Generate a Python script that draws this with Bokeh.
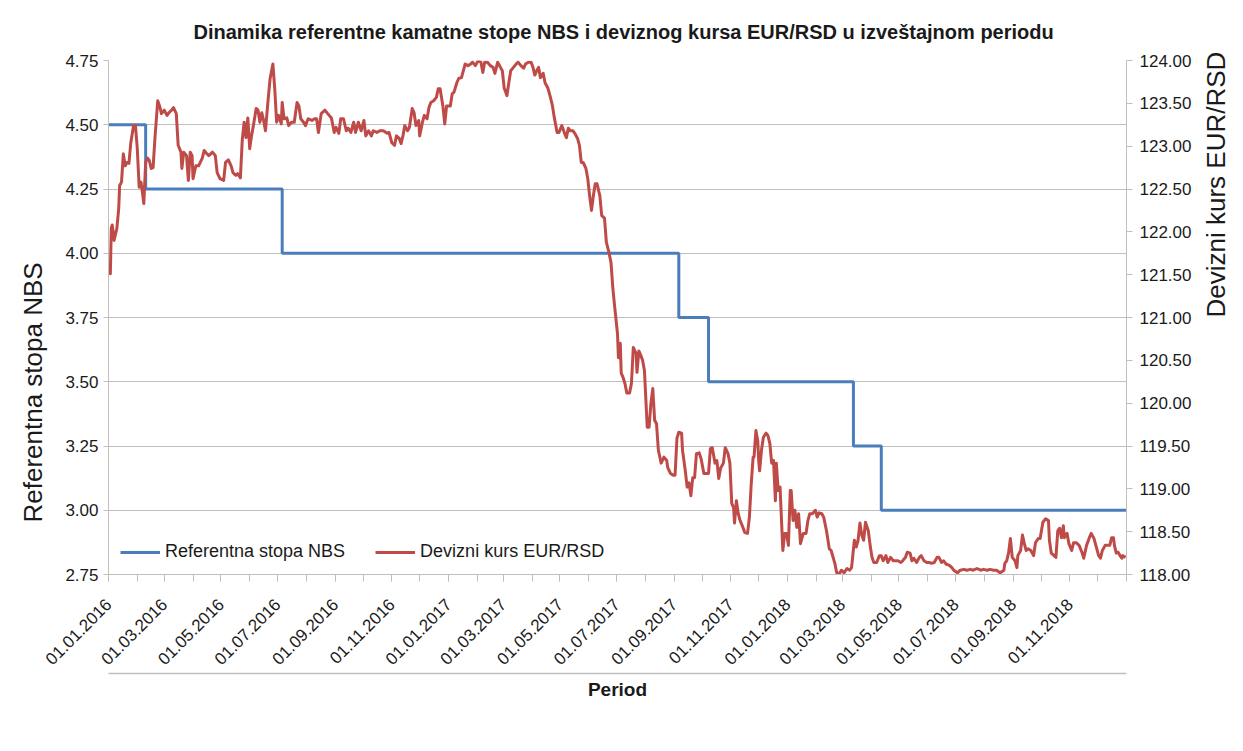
import math
import pandas as pd
from bokeh.plotting import figure
from bokeh.models import (Range1d, LinearAxis, FixedTicker, NumeralTickFormatter,
                          DatetimeTickFormatter, Legend, LegendItem, Title)
from bokeh.embed import file_html
from bokeh.resources import INLINE

# ---------------- data ----------------
rate_dates = ["2016-01-01", "2016-02-10", "2016-07-06", "2017-09-06",
              "2017-10-08", "2018-03-13", "2018-04-12", "2019-01-01"]
rate_values = [4.50, 4.25, 4.00, 3.75, 3.50, 3.25, 3.00, 3.00]

fx_dates = [
    "2016-01-01", "2016-01-03", "2016-01-04", "2016-01-05", "2016-01-07", "2016-01-10", "2016-01-12", "2016-01-13", "2016-01-15", "2016-01-17", "2016-01-19", "2016-01-21", "2016-01-23", "2016-01-25", "2016-01-28", "2016-01-30",
    "2016-02-01", "2016-02-03", "2016-02-05", "2016-02-07", "2016-02-08", "2016-02-10", "2016-02-12", "2016-02-14", "2016-02-16", "2016-02-18", "2016-02-20", "2016-02-23", "2016-02-25", "2016-02-27",
    "2016-03-01", "2016-03-04", "2016-03-06", "2016-03-09", "2016-03-11", "2016-03-14", "2016-03-16", "2016-03-19", "2016-03-20", "2016-03-22", "2016-03-25", "2016-03-27", "2016-03-29", "2016-03-31",
    "2016-04-01", "2016-04-04", "2016-04-07", "2016-04-11", "2016-04-13", "2016-04-16", "2016-04-18", "2016-04-22", "2016-04-25", "2016-04-27", "2016-04-30",
    "2016-05-04", "2016-05-06", "2016-05-09", "2016-05-12", "2016-05-14", "2016-05-17", "2016-05-19", "2016-05-22", "2016-05-24", "2016-05-26", "2016-05-28", "2016-05-30",
    "2016-06-01", "2016-06-03", "2016-06-05", "2016-06-08", "2016-06-10", "2016-06-12", "2016-06-14", "2016-06-16", "2016-06-18", "2016-06-21", "2016-06-23", "2016-06-26", "2016-06-28", "2016-06-30",
    "2016-07-02", "2016-07-05", "2016-07-06", "2016-07-08", "2016-07-11", "2016-07-13", "2016-07-16", "2016-07-19", "2016-07-22", "2016-07-24", "2016-07-26", "2016-07-29", "2016-07-31",
    "2016-08-03", "2016-08-07", "2016-08-10", "2016-08-12", "2016-08-14", "2016-08-17", "2016-08-21", "2016-08-24", "2016-08-28", "2016-08-31",
    "2016-09-02", "2016-09-05", "2016-09-07", "2016-09-10", "2016-09-13", "2016-09-15", "2016-09-18", "2016-09-21", "2016-09-23", "2016-09-26", "2016-09-29",
    "2016-10-02", "2016-10-04", "2016-10-07", "2016-10-10", "2016-10-12", "2016-10-16", "2016-10-19", "2016-10-23", "2016-10-27", "2016-10-29",
    "2016-11-01", "2016-11-04", "2016-11-06", "2016-11-09", "2016-11-11", "2016-11-13", "2016-11-15", "2016-11-18", "2016-11-20", "2016-11-23", "2016-11-25", "2016-11-27", "2016-11-30",
    "2016-12-01", "2016-12-04", "2016-12-06", "2016-12-09", "2016-12-11", "2016-12-13", "2016-12-16", "2016-12-19", "2016-12-21", "2016-12-23", "2016-12-26", "2016-12-28", "2016-12-30",
    "2017-01-03", "2017-01-05", "2017-01-07", "2017-01-10", "2017-01-12", "2017-01-15", "2017-01-17", "2017-01-19", "2017-01-22", "2017-01-25", "2017-01-27", "2017-01-30",
    "2017-02-02", "2017-02-05", "2017-02-07", "2017-02-09", "2017-02-12", "2017-02-15", "2017-02-18", "2017-02-20", "2017-02-23", "2017-02-26", "2017-02-28",
    "2017-03-02", "2017-03-05", "2017-03-07", "2017-03-09", "2017-03-12", "2017-03-15", "2017-03-17", "2017-03-20", "2017-03-23", "2017-03-25", "2017-03-28", "2017-03-31",
    "2017-04-02", "2017-04-04", "2017-04-06", "2017-04-08", "2017-04-10", "2017-04-13", "2017-04-15", "2017-04-18", "2017-04-21", "2017-04-23", "2017-04-25", "2017-04-28", "2017-04-30",
    "2017-05-03", "2017-05-06", "2017-05-08", "2017-05-10", "2017-05-12", "2017-05-15", "2017-05-17", "2017-05-20", "2017-05-22", "2017-05-24", "2017-05-26", "2017-05-29", "2017-05-31",
    "2017-06-02", "2017-06-04", "2017-06-06", "2017-06-08", "2017-06-10", "2017-06-13", "2017-06-15", "2017-06-18", "2017-06-20", "2017-06-23", "2017-06-25", "2017-06-27", "2017-06-29",
    "2017-07-02", "2017-07-03", "2017-07-05", "2017-07-06", "2017-07-08", "2017-07-10", "2017-07-12", "2017-07-15", "2017-07-17", "2017-07-19", "2017-07-22", "2017-07-23", "2017-07-25", "2017-07-27", "2017-07-29", "2017-07-31",
    "2017-08-03", "2017-08-05", "2017-08-07", "2017-08-09", "2017-08-11", "2017-08-13", "2017-08-15", "2017-08-18", "2017-08-21", "2017-08-24", "2017-08-25", "2017-08-28", "2017-08-31",
    "2017-09-02", "2017-09-04", "2017-09-06", "2017-09-09", "2017-09-10", "2017-09-13", "2017-09-15", "2017-09-17", "2017-09-19", "2017-09-21", "2017-09-23", "2017-09-25", "2017-09-28", "2017-09-30",
    "2017-10-03", "2017-10-05", "2017-10-08", "2017-10-10", "2017-10-12", "2017-10-15", "2017-10-17", "2017-10-19", "2017-10-21", "2017-10-24", "2017-10-26", "2017-10-29", "2017-10-31",
    "2017-11-02", "2017-11-04", "2017-11-05", "2017-11-07", "2017-11-09", "2017-11-11", "2017-11-14", "2017-11-16", "2017-11-19", "2017-11-21", "2017-11-23", "2017-11-25", "2017-11-26", "2017-11-28", "2017-11-30",
    "2017-12-01", "2017-12-02", "2017-12-04", "2017-12-06", "2017-12-09", "2017-12-11", "2017-12-13", "2017-12-15", "2017-12-17", "2017-12-19", "2017-12-20", "2017-12-22", "2017-12-24", "2017-12-27", "2017-12-29", "2017-12-31",
    "2018-01-02", "2018-01-04", "2018-01-05", "2018-01-07", "2018-01-09", "2018-01-11", "2018-01-13", "2018-01-15", "2018-01-18", "2018-01-21", "2018-01-23", "2018-01-25", "2018-01-28", "2018-01-31",
    "2018-02-02", "2018-02-04", "2018-02-07", "2018-02-09", "2018-02-12", "2018-02-15", "2018-02-17", "2018-02-21", "2018-02-23", "2018-02-26", "2018-02-28",
    "2018-03-03", "2018-03-06", "2018-03-09", "2018-03-11", "2018-03-14", "2018-03-16", "2018-03-18", "2018-03-20", "2018-03-22", "2018-03-24", "2018-03-26", "2018-03-29", "2018-03-31",
    "2018-04-02", "2018-04-04", "2018-04-07", "2018-04-10", "2018-04-12", "2018-04-14", "2018-04-17", "2018-04-19", "2018-04-22", "2018-04-25", "2018-04-28", "2018-04-30",
    "2018-05-03", "2018-05-05", "2018-05-08", "2018-05-10", "2018-05-13", "2018-05-15", "2018-05-17", "2018-05-20", "2018-05-23", "2018-05-25", "2018-05-28", "2018-05-31",
    "2018-06-03", "2018-06-05", "2018-06-08", "2018-06-11", "2018-06-13", "2018-06-16", "2018-06-18", "2018-06-21", "2018-06-24", "2018-06-27", "2018-06-29",
    "2018-07-03", "2018-07-06", "2018-07-10", "2018-07-13", "2018-07-17", "2018-07-20", "2018-07-24", "2018-07-28", "2018-07-31",
    "2018-08-04", "2018-08-07", "2018-08-11", "2018-08-14", "2018-08-18", "2018-08-22", "2018-08-23", "2018-08-25", "2018-08-27", "2018-08-29", "2018-08-31",
    "2018-09-03", "2018-09-05", "2018-09-06", "2018-09-09", "2018-09-11", "2018-09-13", "2018-09-15", "2018-09-17", "2018-09-20", "2018-09-23", "2018-09-25", "2018-09-28", "2018-09-30",
    "2018-10-03", "2018-10-06", "2018-10-09", "2018-10-10", "2018-10-12", "2018-10-15", "2018-10-17", "2018-10-19", "2018-10-21", "2018-10-23", "2018-10-25", "2018-10-26", "2018-10-29", "2018-10-31",
    "2018-11-03", "2018-11-05", "2018-11-08", "2018-11-11", "2018-11-14", "2018-11-16", "2018-11-19", "2018-11-22", "2018-11-24", "2018-11-27", "2018-11-29",
    "2018-12-02", "2018-12-04", "2018-12-06", "2018-12-09", "2018-12-11", "2018-12-14", "2018-12-16", "2018-12-18", "2018-12-19", "2018-12-21", "2018-12-23", "2018-12-25", "2018-12-27", "2018-12-28", "2018-12-31",
]

fx_values = [
    121.63, 121.51, 122.04, 122.08, 121.90, 122.04, 122.27, 122.54, 122.58, 122.91, 122.77, 122.81, 122.80, 123.04, 123.24, 123.24,
    122.97, 122.52, 122.58, 122.42, 122.33, 122.81, 122.86, 122.83, 122.74, 122.75, 123.09, 123.53, 123.47, 123.38,
    123.42, 123.36, 123.39, 123.42, 123.45, 123.38, 123.01, 122.93, 122.74, 122.93, 122.89, 122.60, 122.93, 122.89,
    122.62, 122.77, 122.77, 122.86, 122.95, 122.91, 122.89, 122.93, 122.89, 122.69, 122.62,
    122.60, 122.81, 122.84, 122.77, 122.69, 122.66, 122.68, 122.63, 123.07, 123.28, 123.10, 123.33,
    122.97, 123.12, 123.24, 123.44, 123.42, 123.28, 123.39, 123.30, 123.18, 123.56, 123.79, 123.96, 123.67, 123.28,
    123.36, 123.26, 123.51, 123.32, 123.33, 123.24, 123.28, 123.28, 123.51, 123.47, 123.32, 123.28, 123.24,
    123.32, 123.30, 123.32, 123.32, 123.16, 123.38, 123.42, 123.38, 123.33, 123.16,
    123.22, 123.15, 123.32, 123.32, 123.18, 123.21, 123.16, 123.28, 123.16, 123.28, 123.18,
    123.30, 123.12, 123.18, 123.12, 123.18, 123.16, 123.18, 123.18, 123.15, 123.16,
    123.04, 123.01, 123.12, 123.09, 123.03, 123.12, 123.24, 123.18, 123.22, 123.44, 123.39, 123.24, 123.30,
    123.12, 123.28, 123.36, 123.32, 123.45, 123.51, 123.53, 123.57, 123.67, 123.67, 123.47, 123.26, 123.47,
    123.47, 123.61, 123.63, 123.74, 123.79, 123.80, 123.88, 123.96, 123.94, 123.96, 123.98, 123.94,
    124.00, 123.98, 123.86, 123.98, 123.98, 123.94, 123.92, 123.85, 123.98, 123.92, 123.88,
    123.68, 123.59, 123.74, 123.88, 123.92, 123.96, 123.98, 123.94, 123.91, 123.96, 123.98, 123.98,
    123.92, 123.83, 123.88, 123.92, 123.80, 123.85, 123.74, 123.68, 123.56, 123.47, 123.33, 123.16, 123.16,
    123.24, 123.15, 123.10, 123.21, 123.18, 123.18, 123.15, 123.09, 123.01, 122.81, 122.81, 122.74, 122.62,
    122.42, 122.25, 122.42, 122.56, 122.56, 122.42, 122.19, 122.16, 121.88, 121.75, 121.64, 121.34, 121.12,
    120.81, 120.53, 120.70, 120.35, 120.30, 120.23, 120.12, 120.12, 120.23, 120.65, 120.58, 120.36, 120.61, 120.56, 120.50, 120.38,
    119.72, 119.72, 120.00, 120.17, 119.80, 119.76, 119.45, 119.30, 119.37, 119.33, 119.25, 119.18, 119.16,
    119.16, 119.59, 119.66, 119.65, 119.45, 119.21, 119.02, 119.07, 118.92, 119.13, 119.13, 119.41, 119.42, 119.35,
    119.18, 119.18, 119.18, 119.47, 119.48, 119.30, 119.33, 119.12, 119.24, 119.30, 119.48, 119.41, 119.30,
    118.83, 118.78, 118.60, 118.86, 118.71, 118.63, 118.55, 118.49, 118.48, 118.67, 119.06, 119.37, 119.37, 119.68, 119.56,
    119.33, 119.21, 119.45, 119.60, 119.65, 119.62, 119.53, 119.30, 119.33, 118.86, 119.30, 118.98, 119.02, 118.28, 118.48, 118.48,
    118.34, 118.98, 118.98, 118.63, 118.75, 118.55, 118.71, 118.36, 118.48, 118.48, 118.63, 118.71, 118.71, 118.75,
    118.67, 118.72, 118.71, 118.67, 118.51, 118.30, 118.28, 118.13, 118.02, 118.01, 118.05,
    118.02, 118.07, 118.05, 118.08, 118.40, 118.32, 118.40, 118.60, 118.46, 118.40, 118.61, 118.51, 118.34,
    118.20, 118.14, 118.14, 118.22, 118.22, 118.16, 118.22, 118.14, 118.20, 118.16, 118.16, 118.16,
    118.14, 118.16, 118.20, 118.26, 118.25, 118.16, 118.19, 118.14, 118.20, 118.22, 118.16, 118.14,
    118.14, 118.13, 118.14, 118.20, 118.20, 118.14, 118.16, 118.12, 118.11, 118.08, 118.05,
    118.02, 118.05, 118.06, 118.05, 118.06, 118.05, 118.07, 118.05, 118.06,
    118.05, 118.06, 118.05, 118.05, 118.02, 118.05, 118.13, 118.16, 118.25, 118.42, 118.20,
    118.16, 118.08, 118.22, 118.28, 118.46, 118.36, 118.28, 118.30, 118.28, 118.22, 118.37, 118.42, 118.42,
    118.61, 118.65, 118.63, 118.40, 118.25, 118.22, 118.20, 118.51, 118.54, 118.43, 118.57, 118.43, 118.48, 118.36,
    118.28, 118.37, 118.37, 118.34, 118.26, 118.19, 118.34, 118.43, 118.48, 118.42, 118.34,
    118.22, 118.19, 118.28, 118.34, 118.34, 118.34, 118.43, 118.43, 118.34, 118.25, 118.26, 118.22, 118.19, 118.22, 118.20,
]

rate_ticks = [2.75, 3.00, 3.25, 3.50, 3.75, 4.00, 4.25, 4.50, 4.75]
fx_ticks = [118.0, 118.5, 119.0, 119.5, 120.0, 120.5, 121.0, 121.5, 122.0, 122.5, 123.0, 123.5, 124.0]
label_months = ["2016-01-01", "2016-03-01", "2016-05-01", "2016-07-01", "2016-09-01", "2016-11-01",
                "2017-01-01", "2017-03-01", "2017-05-01", "2017-07-01", "2017-09-01", "2017-11-01",
                "2018-01-01", "2018-03-01", "2018-05-01", "2018-07-01", "2018-09-01", "2018-11-01"]
all_months = ["2016-01-01", "2016-02-01", "2016-03-01", "2016-04-01", "2016-05-01", "2016-06-01",
              "2016-07-01", "2016-08-01", "2016-09-01", "2016-10-01", "2016-11-01", "2016-12-01",
              "2017-01-01", "2017-02-01", "2017-03-01", "2017-04-01", "2017-05-01", "2017-06-01",
              "2017-07-01", "2017-08-01", "2017-09-01", "2017-10-01", "2017-11-01", "2017-12-01",
              "2018-01-01", "2018-02-01", "2018-03-01", "2018-04-01", "2018-05-01", "2018-06-01",
              "2018-07-01", "2018-08-01", "2018-09-01", "2018-10-01", "2018-11-01", "2018-12-01",
              "2019-01-01"]

title_text = "Dinamika referentne kamatne stope NBS i deviznog kursa EUR/RSD u izveštajnom periodu"
left_label = "Referentna stopa NBS"
right_label = "Devizni kurs EUR/RSD"
x_label = "Period"

# ---------------- styling / layout ----------------
FONT = "Liberation Sans"
BLUE = "#4a7ebb"
RED = "#be4b48"
GRID = "#bfbfbf"
TXT = "#1a1a1a"


def to_ms(dates):
    return list((pd.to_datetime(dates).astype("int64") // 10**6).astype(float))


p = figure(frame_width=1018, frame_height=514, x_axis_type="datetime",
           x_range=Range1d(pd.Timestamp(all_months[0]), pd.Timestamp(all_months[-1])),
           y_range=Range1d(rate_ticks[0], rate_ticks[-1]),
           output_backend="svg", toolbar_location=None,
           min_border_left=108, min_border_right=117, min_border_top=60, min_border_bottom=120)
p.outline_line_color = None
p.background_fill_color = "white"

xa = p.below[0]   # the date axis
ya = p.left[0]    # the rate axis

# chart title
p.title.text = title_text
p.title.align = "left"
p.title.offset = 85
p.title.standoff = 35
p.title.text_font = FONT
p.title.text_font_size = "20px"
p.title.text_font_style = "bold"
p.title.text_color = TXT

p.extra_y_ranges = {"fx": Range1d(fx_ticks[0], fx_ticks[-1])}

r_rate = p.step(pd.to_datetime(rate_dates), rate_values, mode="after", color=BLUE, line_width=3)
r_fx = p.line(pd.to_datetime(fx_dates), fx_values, y_range_name="fx", color=RED, line_width=3,
              line_join="round")

# grid
p.xgrid.visible = False
p.ygrid.ticker = FixedTicker(ticks=rate_ticks)
p.ygrid.grid_line_color = GRID
p.ygrid.grid_line_width = 1

# left axis (ticks)
ya.ticker = FixedTicker(ticks=rate_ticks)
ya.formatter = NumeralTickFormatter(format="0.00")
ya.major_label_text_font = FONT
ya.major_label_text_font_size = "17px"
ya.major_label_text_color = TXT
ya.major_label_standoff = 5
ya.major_tick_in = 0
ya.major_tick_out = 5
ya.minor_tick_out = 0
ya.minor_tick_in = 0
ya.axis_line_color = GRID
ya.major_tick_line_color = GRID

# left axis title (as a side title, shifted down like the reference)
p.add_layout(Title(text=left_label, align="left", offset=52, standoff=30, text_font=FONT,
                   text_font_size="26px", text_font_style="normal", text_color=TXT), "left")

# right axis (ticks + title)
ra = LinearAxis(y_range_name="fx", ticker=FixedTicker(ticks=fx_ticks),
                formatter=NumeralTickFormatter(format="0.00"))
ra.major_label_text_font = FONT
ra.major_label_text_font_size = "17px"
ra.major_label_text_color = TXT
ra.major_label_standoff = 7
ra.major_tick_in = 0
ra.major_tick_out = 6
ra.minor_tick_out = 0
ra.minor_tick_in = 0
ra.axis_line_color = GRID
ra.major_tick_line_color = GRID
ra.axis_label = right_label
ra.axis_label_orientation = math.pi / 2
ra.axis_label_text_font = FONT
ra.axis_label_text_font_size = "26px"
ra.axis_label_text_font_style = "normal"
ra.axis_label_text_color = TXT
ra.axis_label_standoff = 22
p.add_layout(ra, "right")

# bottom date axis
xa.ticker = FixedTicker(ticks=to_ms(label_months), minor_ticks=to_ms(all_months))
fmt = "%d.%m.%Y"
xa.formatter = DatetimeTickFormatter(microseconds=fmt, milliseconds=fmt, seconds=fmt, minsec=fmt,
                                     minutes=fmt, hourmin=fmt, hours=fmt, days=fmt, months=fmt, years=fmt)
xa.major_label_orientation = math.pi / 4
xa.major_label_text_font = FONT
xa.major_label_text_font_size = "17px"
xa.major_label_text_color = TXT
xa.major_label_standoff = 20
xa.major_tick_in = 0
xa.major_tick_out = 7
xa.minor_tick_in = 0
xa.minor_tick_out = 7
xa.axis_line_color = GRID
xa.major_tick_line_color = GRID
xa.minor_tick_line_color = GRID

# "Period" axis (line under the date labels)
pa = LinearAxis(ticker=FixedTicker(ticks=[]))
pa.axis_label = x_label
pa.axis_label_text_font = FONT
pa.axis_label_text_font_size = "19px"
pa.axis_label_text_font_style = "bold"
pa.axis_label_text_color = TXT
pa.axis_label_standoff = 5
pa.major_tick_out = 0
pa.major_tick_in = 0
pa.minor_tick_out = 0
pa.minor_tick_in = 0
pa.major_label_standoff = 0
pa.axis_line_color = GRID
pa.axis_line_width = 1.5
p.add_layout(pa, "below")

# legend (inside the empty lower-left part of the plot area so it is always visible)
legend = Legend(items=[LegendItem(label="Referentna stopa NBS", renderers=[r_rate]),
                       LegendItem(label="Devizni kurs EUR/RSD", renderers=[r_fx])],
                orientation="horizontal", location="bottom_left")
legend.border_line_color = None
legend.background_fill_color = "white"
legend.background_fill_alpha = 0.9
legend.label_text_font = FONT
legend.label_text_font_size = "18px"
legend.label_text_color = TXT
legend.glyph_width = 40
legend.spacing = 30
legend.padding = 4
legend.margin = 12
p.add_layout(legend, "center")

open("out.html", "w").write(file_html(p, INLINE))
